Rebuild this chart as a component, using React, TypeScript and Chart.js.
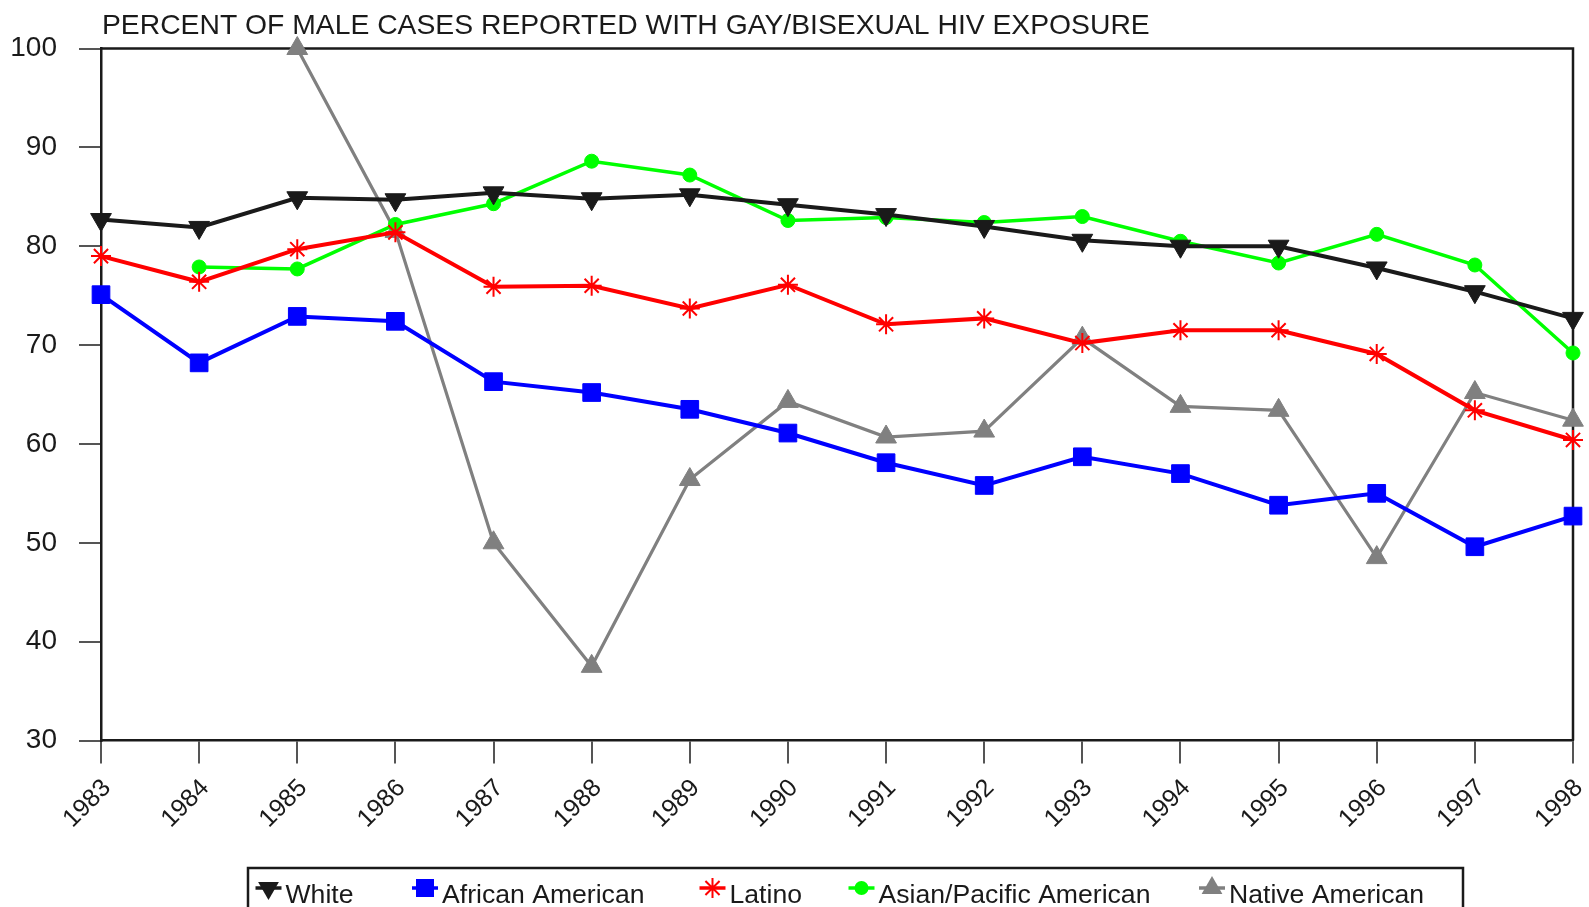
import React, { useEffect, useRef } from 'react';
import { Chart, registerables } from 'chart.js';

Chart.register(...registerables);

const YEARS = ['1983', '1984', '1985', '1986', '1987', '1988', '1989', '1990', '1991', '1992', '1993', '1994', '1995', '1996', '1997', '1998'];
const WHITE = [82.7, 81.9, 84.9, 84.7, 85.4, 84.8, 85.2, 84.2, 83.2, 82.0, 80.6, 80.0, 80.0, 77.8, 75.4, 72.7];
const AFRICAN_AMERICAN = [75.1, 68.2, 72.9, 72.4, 66.3, 65.2, 63.5, 61.1, 58.1, 55.8, 58.7, 57.0, 53.8, 55.0, 49.6, 52.7];
const LATINO = [79.0, 76.4, 79.7, 81.4, 75.9, 76.0, 73.7, 76.1, 72.1, 72.7, 70.2, 71.5, 71.5, 69.1, 63.4, 60.4];
const ASIAN_PACIFIC = [null, 77.9, 77.7, 82.2, 84.3, 88.6, 87.2, 82.6, 82.9, 82.4, 83.0, 80.5, 78.3, 81.2, 78.1, 69.2];
const NATIVE = [null, null, 100, 81.5, 50.0, 37.5, 56.4, 64.3, 60.7, 61.3, 70.7, 63.8, 63.4, 48.5, 65.2, 62.4];
const SERIES_NAMES = ['White', 'African American', 'Latino', 'Asian/Pacific American', 'Native American'];
const Y_MIN = 30;
const Y_MAX = 100;
const Y_STEP = 10;
const TITLE = 'PERCENT OF MALE CASES REPORTED WITH GAY/BISEXUAL HIV EXPOSURE';

const FONT = '"Liberation Sans", Arial, Helvetica, sans-serif';
const TEXT = '#1a1a1a';

function drawMarker(ctx: CanvasRenderingContext2D, kind: string, x: number, y: number, color: string) {
  ctx.save();
  ctx.fillStyle = color;
  ctx.strokeStyle = color;
  ctx.lineWidth = 2;
  ctx.beginPath();
  if (kind === 'tdown' || kind === 'tup') {
    const r = 12;
    const s = kind === 'tdown' ? -1 : 1;
    ctx.moveTo(x, y - s * r);
    ctx.lineTo(x + r * 0.866, y + s * r * 0.5);
    ctx.lineTo(x - r * 0.866, y + s * r * 0.5);
    ctx.closePath();
    ctx.fill();
  } else if (kind === 'rect') {
    ctx.rect(x - 9, y - 9, 18, 18);
    ctx.fill();
  } else if (kind === 'circle') {
    ctx.arc(x, y, 7, 0, Math.PI * 2);
    ctx.fill();
  } else if (kind === 'star') {
    const r = 10;
    ctx.moveTo(x, y - r);
    ctx.lineTo(x, y + r);
    ctx.moveTo(x - r * 0.707, y - r * 0.707);
    ctx.lineTo(x + r * 0.707, y + r * 0.707);
    ctx.moveTo(x - r * 0.707, y + r * 0.707);
    ctx.lineTo(x + r * 0.707, y - r * 0.707);
    ctx.stroke();
  }
  ctx.restore();
}

const decorPlugin = {
  id: 'decor',
  beforeDatasetsDraw(chart: any) {
    const { ctx, chartArea } = chart;
    ctx.save();
    ctx.strokeStyle = TEXT;
    ctx.lineWidth = 2.5;
    ctx.beginPath();
    ctx.moveTo(chartArea.left, chartArea.top);
    ctx.lineTo(chartArea.right, chartArea.top);
    ctx.lineTo(chartArea.right, chartArea.bottom);
    ctx.stroke();
    ctx.restore();
  },
  afterDraw(chart: any) {
    const { ctx, chartArea } = chart;
    ctx.save();
    // title
    ctx.fillStyle = TEXT;
    ctx.font = `28.3px ${FONT}`;
    ctx.textAlign = 'left';
    ctx.textBaseline = 'alphabetic';
    ctx.fillText(TITLE, chartArea.left + 1, 34);

    // legend box
    const boxLeft = 248;
    const boxTop = 868;
    const boxRight = 1463;
    ctx.strokeStyle = TEXT;
    ctx.lineWidth = 2.5;
    ctx.strokeRect(boxLeft, boxTop, boxRight - boxLeft, 80);

    const markerX = [268.5, 425, 712.5, 861.5, 1212];
    const kinds = ['tdown', 'rect', 'star', 'circle', 'tup'];
    const ly = 888;
    chart.data.datasets.forEach((ds: any, i: number) => {
      const mx = markerX[i];
      const color = ds.borderColor;
      ctx.save();
      ctx.strokeStyle = color;
      ctx.lineWidth = 3.5;
      ctx.beginPath();
      ctx.moveTo(mx - 13, ly);
      ctx.lineTo(mx + 13, ly);
      ctx.stroke();
      ctx.restore();
      drawMarker(ctx, kinds[i], mx, ly, color);
      ctx.fillStyle = TEXT;
      ctx.font = `26.6px ${FONT}`;
      ctx.textAlign = 'left';
      ctx.textBaseline = 'alphabetic';
      ctx.fillText(ds.label, mx + 17, 903);
    });
    ctx.restore();
  },
};

export default function App() {
  const canvasRef = useRef<HTMLCanvasElement | null>(null);

  useEffect(() => {
    const canvas = canvasRef.current;
    if (!canvas) return;
    Chart.defaults.font.family = FONT;
    const chart = new Chart(canvas, {
      type: 'line',
      data: {
        labels: YEARS,
        datasets: [
          {
            label: SERIES_NAMES[0],
            data: WHITE,
            borderColor: '#1a1a1a',
            backgroundColor: '#1a1a1a',
            borderWidth: 4,
            pointStyle: 'triangle',
            rotation: 180,
            pointRadius: 12,
            pointBorderWidth: 1,
            clip: false,
          },
          {
            label: SERIES_NAMES[1],
            data: AFRICAN_AMERICAN,
            borderColor: '#0000ff',
            backgroundColor: '#0000ff',
            borderWidth: 4,
            pointStyle: 'rect',
            pointRadius: 12.5,
            pointBorderWidth: 1,
            clip: false,
          },
          {
            label: SERIES_NAMES[2],
            data: LATINO,
            borderColor: '#ff0000',
            backgroundColor: '#ff0000',
            borderWidth: 4,
            pointStyle: 'star',
            pointRadius: 10,
            pointBorderWidth: 2,
            clip: false,
          },
          {
            label: SERIES_NAMES[3],
            data: ASIAN_PACIFIC,
            borderColor: '#00ff00',
            backgroundColor: '#00ff00',
            borderWidth: 3.5,
            pointStyle: 'circle',
            pointRadius: 7,
            pointBorderWidth: 1,
            clip: false,
          },
          {
            label: SERIES_NAMES[4],
            data: NATIVE,
            borderColor: '#808080',
            backgroundColor: '#808080',
            borderWidth: 3.2,
            pointStyle: 'triangle',
            pointRadius: 12,
            pointBorderWidth: 1,
            clip: false,
          },
        ],
      },
      options: {
        responsive: false,
        animation: false,
        spanGaps: false,
        layout: { padding: { top: 48.5, right: 16, left: 0, bottom: 0 } },
        plugins: {
          legend: { display: false },
          title: { display: false },
          tooltip: { enabled: false },
        },
        elements: { line: { tension: 0 } },
        scales: {
          x: {
            type: 'category',
            offset: false,
            grid: {
              offset: false,
              drawOnChartArea: false,
              drawTicks: true,
              tickLength: 23,
              color: '#555555',
              lineWidth: 2,
            },
            border: { display: true, color: TEXT, width: 2.5 },
            ticks: {
              autoSkip: false,
              minRotation: 45,
              maxRotation: 45,
              padding: 10,
              labelOffset: 6,
              color: TEXT,
              font: { size: 25, family: FONT },
            },
            afterFit: (axis: any) => {
              axis.height = 166.5;
              axis.paddingLeft = 0;
              axis.paddingRight = 0;
              axis.paddingTop = 0;
              axis.paddingBottom = 0;
            },
          },
          y: {
            min: Y_MIN,
            max: Y_MAX,
            grid: {
              drawOnChartArea: false,
              drawTicks: true,
              tickLength: 22,
              color: '#555555',
              lineWidth: 2,
            },
            border: { display: true, color: TEXT, width: 2.5 },
            ticks: {
              stepSize: Y_STEP,
              padding: 22,
              color: TEXT,
              font: { size: 28, family: FONT },
            },
            afterFit: (axis: any) => {
              axis.width = 101;
              axis.paddingLeft = 0;
              axis.paddingRight = 0;
              axis.paddingTop = 0;
              axis.paddingBottom = 0;
            },
          },
        },
      },
      plugins: [decorPlugin],
    } as any);
    return () => chart.destroy();
  }, []);

  return (
    <div style={{ position: 'fixed', left: 0, top: 0, width: 1589, height: 907, background: '#ffffff' }}>
      <canvas ref={canvasRef} width={1589} height={907} style={{ display: 'block' }} />
    </div>
  );
}
